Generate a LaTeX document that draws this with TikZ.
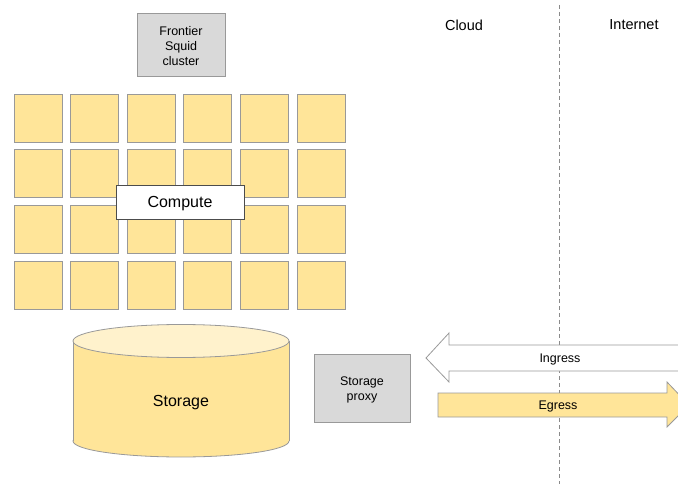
\documentclass[tikz,border=0pt]{standalone}
\usepackage{fontspec}
\setmainfont{Liberation Sans}
\definecolor{edge}{HTML}{999999}
\definecolor{boxgray}{HTML}{D9D9D9}
\definecolor{cellyellow}{HTML}{FFE599}
\definecolor{lightyellow}{HTML}{FFF2CC}

\begin{document}
\begin{tikzpicture}[x=1pt, y=-1pt,
        small/.style={font=\fontsize{12.5}{15}\selectfont},
        box/.style={rectangle, draw=edge, fill=boxgray, line width=0.8pt, inner sep=0pt, align=center, small},
        cell/.style={rectangle, draw=edge, fill=cellyellow, line width=0.8pt, inner sep=0pt, minimum size=48pt},
        bigarrow/.style={draw=edge, line width=0.8pt},
        heading/.style={font=\fontsize{14.5}{17}\selectfont}]

        \useasboundingbox (0,0) rectangle (678,484);
        \clip (0,0) rectangle (678,484);

        % Boundary (Cloud / Internet)
        \coordinate (top) at (559,5);
        \coordinate (bottom) at (559,484);
        \draw[edge!90!black, line width=0.7pt, dash pattern=on 4pt off 3pt] (top) -- (bottom);
        \node[heading] (cloud) at (464,25) {Cloud};
        \node[heading] (internet) at (634,25) {Internet};

        % Nodes (Services)
        \node[box, minimum width=88pt, minimum height=63pt] (squid) at (181,44.5) {\rule{0pt}{13pt}Frontier\\Squid\\cluster};
        \foreach \i in {0,...,5}
            \foreach \j in {0,...,3}
                \node[cell] (c-\i-\j) at (38+56.6*\i, 118+55.7*\j) {};
        \node[rectangle, draw=black!70, fill=white, line width=0.8pt, minimum width=128pt, minimum height=34pt,
              text depth=0pt, font=\fontsize{16}{19}\selectfont] (compute) at (180,202) {Compute};
        \node[box, minimum width=96pt, minimum height=68pt] (proxy) at (362,388) {\rule{0pt}{13pt}Storage\\proxy};

        % Storage (cylinder)
        \filldraw[fill=cellyellow, draw=edge, line width=0.8pt] (181,441) ellipse [x radius=108, y radius=16];
        \fill[cellyellow] (73,341) rectangle (289,441);
        \draw[edge, line width=0.8pt] (73,341) -- (73,441) (289,341) -- (289,441);
        \filldraw[fill=lightyellow, draw=edge, line width=0.8pt] (181,341) ellipse [x radius=108, y radius=16.5];
        \node[text depth=0pt, font=\fontsize{16}{19}\selectfont] (storage) at (181,401) {Storage};

        % Arrows (Traffic)
        \filldraw[bigarrow, fill=white] (690,345) -- (449,345) -- (449,333) -- (426,358)
            -- (449,382) -- (449,371) -- (690,371) -- cycle;
        \node[small, text depth=0pt] (ingress) at (560,358) {Ingress};
        \filldraw[bigarrow, fill=cellyellow] (438,393) -- (667,393) -- (667,382) -- (689,405)
            -- (667,427) -- (667,417) -- (438,417) -- cycle;
        \node[small, text depth=0pt] (egress) at (558,405) {Egress};
    \end{tikzpicture}
\end{document}
